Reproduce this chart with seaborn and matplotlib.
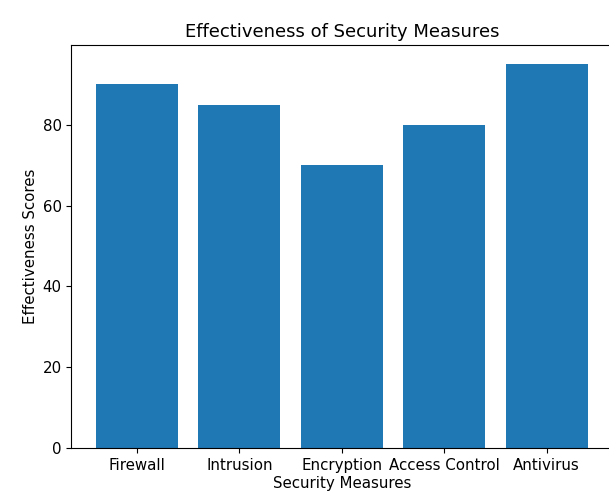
import matplotlib
matplotlib.use("Agg")
import matplotlib.pyplot as plt
import seaborn as sns
import pandas as pd

measures = ["Firewall", "Intrusion", "Encryption", "Access Control", "Antivirus"]
scores = [90, 85, 70, 80, 95]

df = pd.DataFrame({"measure": measures, "score": scores})

fig = plt.figure(figsize=(6.09, 4.98), dpi=100)
fig.patch.set_facecolor("white")
ax = fig.add_axes([0.1172, 0.1004, 0.888, 0.8092])

sns.barplot(data=df, x="measure", y="score", color="#1f77b4", saturation=1,
            width=0.8, ax=ax)
ax.set_xlim(-0.64, 4.64)
ax.set_ylim(0, 99.75)

ax.set_title("Effectiveness of Security Measures", fontsize=13)
ax.set_xlabel("Security Measures", fontsize=10.8, labelpad=2)
ax.set_ylabel("Effectiveness Scores", fontsize=10.8, labelpad=3)
ax.tick_params(labelsize=10.8)

fig.savefig("out.png", dpi=100)
